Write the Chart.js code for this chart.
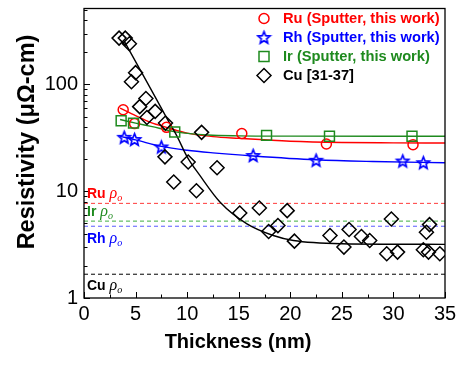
<!DOCTYPE html>
<html>
<head>
<meta charset="utf-8">
<script src="https://cdn.jsdelivr.net/npm/chart.js@4.4.1/dist/chart.umd.min.js"></script>
<style>
  html, body { margin: 0; padding: 0; background: #fff; }
  #wrap { width: 461px; height: 366px; }
</style>
</head>
<body>
<div id="wrap"><canvas id="resChart" width="461" height="366"></canvas></div>
<script>
// measured points (thickness nm, resistivity uOhm-cm)
const ruX = [3.8, 4.9, 8.0, 15.3, 23.5, 31.9];
const ruY = [58, 43, 39.7, 34.7, 27.7, 27.3];
const rhX = [3.9, 4.9, 7.5, 16.4, 22.5, 30.9, 32.9];
const rhY = [32, 30.5, 26, 21.6, 19.5, 19.2, 18.5];
const irX = [3.6, 4.8, 8.8, 17.7, 23.8, 31.8];
const irY = [45.8, 43.5, 35.9, 33.4, 32.7, 32.7];
const cuX = [3.4, 4.0, 4.4, 5.0, 4.6, 6.0, 5.4, 6.9, 6.1, 7.9, 11.4, 7.85, 8.7, 10.1, 10.9, 12.9,
             15.1, 17.0, 17.9, 18.8, 19.7, 20.4, 23.85, 25.2, 25.7, 26.9, 27.7, 29.35, 29.8,
             30.4, 32.9, 33.4, 33.2, 33.5, 34.5];
const cuY = [272, 272, 241, 129, 106, 74, 62, 56, 49, 43.5, 35.6, 21, 12.2, 18.8, 10.1, 16.6,
             6.26, 6.96, 4.2, 4.77, 6.58, 3.41, 3.85, 3.0, 4.38, 3.77, 3.46, 2.6, 5.5,
             2.69, 2.83, 2.69, 4.13, 4.87, 2.6];

// fitted curves
const ruFitX = [3.5, 5, 6.5, 8, 10, 12.5, 15, 20, 25, 30, 35];
const ruFitY = [60, 51, 44, 39.7, 35, 32.5, 31.3, 29.4, 28.6, 28.4, 28.3];
const irFitX = [3.5, 5, 6.5, 9, 12, 15, 20, 35];
const irFitY = [47, 43.5, 40.5, 35.8, 33.6, 33, 32.8, 32.7];
const rhFitX = [3.5, 5, 7.5, 10, 12.5, 16.4, 22.5, 28, 35];
const rhFitY = [32.7, 30.3, 26.3, 24.2, 22.9, 21.4, 19.7, 19, 18.5];
const cuFitX = [3.9, 6, 8, 9, 10, 11.25, 13.2, 15.8, 18.35, 20.3, 25, 30, 35];
const cuFitY = [255, 110, 49, 33, 21, 14, 7.9, 4.95, 3.85, 3.46, 3.22, 3.19, 3.18];

// bulk resistivities (dashed lines)
const rhoNames = ['Ru', 'Ir', 'Rh', 'Cu'];
const rhoValues = [7.7, 5.25, 4.7, 1.67];
const rhoRange = [0, 35];

const xTicks = [0, 5, 10, 15, 20, 25, 30, 35];
const yTicks = [1, 10, 100];

const legendNames = ['Ru (Sputter, this work)', 'Rh (Sputter, this work)', 'Ir (Sputter, this work)', 'Cu [31-37]'];

const RED = '#ff0000', BLUE = '#0000ff', GREEN = '#1e8a1e', BLACK = '#000000';
const rhoColors = ['#ff3b3b', '#3fae3f', '#5a5aff', '#000000'];
const SANS = "'Liberation Sans', Arial, sans-serif";

function pts(xs, ys) { return xs.map((x, i) => ({ x: x, y: ys[i] })); }

function makeStar(r, color, lw) {
  const c = document.createElement('canvas');
  const s = Math.ceil(2 * r + lw + 2);
  c.width = s; c.height = s;
  const g = c.getContext('2d');
  g.strokeStyle = color; g.lineWidth = lw; g.lineJoin = 'miter';
  g.beginPath();
  for (let i = 0; i < 10; i++) {
    const ang = -Math.PI / 2 + i * Math.PI / 5;
    const rr = i % 2 ? r * 0.45 : r;
    const px = s / 2 + rr * Math.cos(ang), py = s / 2 + 0.5 + rr * Math.sin(ang);
    if (i === 0) g.moveTo(px, py); else g.lineTo(px, py);
  }
  g.closePath(); g.stroke();
  return c;
}
const star = makeStar(6.3, BLUE, 1.7);

function markers(xs, ys, color, style, r) {
  return {
    data: pts(xs, ys), showLine: false, borderColor: color, backgroundColor: 'rgba(0,0,0,0)',
    pointStyle: style, pointRadius: r, pointBorderWidth: 1.5
  };
}
function fitLine(xs, ys, color) {
  return {
    data: pts(xs, ys), showLine: true, borderColor: color, borderWidth: 1.4, pointRadius: 0,
    cubicInterpolationMode: 'monotone', fill: false
  };
}

const datasets = [
  markers(cuX, cuY, BLACK, 'rectRot', 7),
  markers(irX, irY, GREEN, 'rect', 7),
  markers(rhX, rhY, BLUE, star, 6),
  markers(ruX, ruY, RED, 'circle', 5),
  fitLine(cuFitX, cuFitY, BLACK),
  fitLine(irFitX, irFitY, GREEN),
  fitLine(rhFitX, rhFitY, BLUE),
  fitLine(ruFitX, ruFitY, RED)
];
rhoValues.forEach((v, i) => {
  datasets.push({
    data: rhoRange.map(x => ({ x: x, y: v })), showLine: true, borderColor: rhoColors[i],
    borderWidth: 1, borderDash: [4, 3], pointRadius: 0
  });
});

const decor = {
  id: 'decor',
  afterDraw(chart) {
    const { ctx, chartArea: a, scales: { x, y } } = chart;
    ctx.save();
    ctx.strokeStyle = '#000';
    ctx.lineWidth = 1.3;
    ctx.strokeRect(a.left, a.top, a.right - a.left, a.bottom - a.top);

    // inward ticks
    ctx.lineWidth = 1;
    ctx.beginPath();
    xTicks.forEach((v, i) => {
      const px = Math.round(x.getPixelForValue(v)) + 0.5;
      ctx.moveTo(px, a.bottom); ctx.lineTo(px, a.bottom - 6);
      if (i < xTicks.length - 1) {
        const pm = Math.round(x.getPixelForValue((v + xTicks[i + 1]) / 2)) + 0.5;
        ctx.moveTo(pm, a.bottom); ctx.lineTo(pm, a.bottom - 3.5);
      }
    });
    yTicks.forEach(d => {
      const py = Math.round(y.getPixelForValue(d)) + 0.5;
      ctx.moveTo(a.left, py); ctx.lineTo(a.left + 6, py);
      for (let m = 2; m <= 9; m++) {
        if (d * m > y.max) break;
        const pm = Math.round(y.getPixelForValue(d * m)) + 0.5;
        ctx.moveTo(a.left, pm); ctx.lineTo(a.left + 3.5, pm);
      }
    });
    ctx.stroke();

    // legend
    const lx = 264, ly = [18.5, 37.5, 56.5, 75.5], lcol = [RED, BLUE, GREEN, BLACK];
    ctx.lineWidth = 1.5;
    ctx.strokeStyle = RED;
    ctx.beginPath(); ctx.arc(lx, ly[0], 5, 0, Math.PI * 2); ctx.stroke();
    ctx.drawImage(star, lx - star.width / 2, ly[1] - star.height / 2);
    ctx.strokeStyle = GREEN;
    ctx.strokeRect(lx - 5, ly[2] - 5, 10, 10);
    ctx.strokeStyle = BLACK;
    ctx.beginPath();
    ctx.moveTo(lx - 7, ly[3]); ctx.lineTo(lx, ly[3] - 7); ctx.lineTo(lx + 7, ly[3]); ctx.lineTo(lx, ly[3] + 7);
    ctx.closePath(); ctx.stroke();
    ctx.font = 'bold 14.7px ' + SANS;
    ctx.textBaseline = 'middle';
    ctx.textAlign = 'left';
    legendNames.forEach((t, i) => { ctx.fillStyle = lcol[i]; ctx.fillText(t, 283, ly[i] + 0.5); });

    // rho labels
    const rhoBase = [198, 216, 243, 290];
    const rhoTxt = [RED, GREEN, BLUE, BLACK];
    ctx.textBaseline = 'alphabetic';
    rhoNames.forEach((n, i) => {
      ctx.fillStyle = rhoTxt[i];
      ctx.font = 'bold 14px ' + SANS;
      ctx.fillText(n, 87, rhoBase[i]);
      const w = ctx.measureText(n + ' ').width;
      ctx.font = 'italic 16px "Liberation Serif", serif';
      ctx.fillText('\u03c1', 87 + w, rhoBase[i]);
      const w2 = ctx.measureText('\u03c1').width;
      ctx.font = 'italic 10px "Liberation Serif", serif';
      ctx.fillText('o', 87 + w + w2, rhoBase[i] + 3);
    });

    // axis titles
    ctx.fillStyle = '#000';
    ctx.font = 'bold 20px ' + SANS;
    ctx.textAlign = 'center';
    ctx.textBaseline = 'middle';
    ctx.fillText('Thickness (nm)', 238, 342);
    ctx.translate(28, 142);
    ctx.rotate(-Math.PI / 2);
    ctx.font = 'bold 23.5px ' + SANS;
    ctx.fillText('Resistivity (\u03bc\u03a9-cm)', 0, 0);
    ctx.restore();
  }
};

new Chart(document.getElementById('resChart').getContext('2d'), {
  type: 'scatter',
  data: { datasets: datasets },
  options: {
    responsive: false,
    animation: false,
    layout: { padding: { left: 0, top: 6, right: 16, bottom: 0 } },
    plugins: { legend: { display: false }, tooltip: { enabled: false } },
    scales: {
      x: {
        type: 'linear', min: 0, max: 35,
        afterBuildTicks: axis => { axis.ticks = xTicks.map(v => ({ value: v })); },
        afterFit: s => { s.height = 68; s.paddingLeft = 0; s.paddingRight = 0; },
        grid: { display: false, drawTicks: false }, border: { display: false },
        ticks: { color: '#000', padding: 4, maxRotation: 0, font: { size: 20, family: SANS } }
      },
      y: {
        type: 'logarithmic', min: 1, max: 515,
        afterBuildTicks: axis => { axis.ticks = yTicks.map(v => ({ value: v })); },
        afterFit: s => { s.width = 84; s.paddingTop = 0; s.paddingBottom = 0; },
        grid: { display: false, drawTicks: false }, border: { display: false },
        ticks: { color: '#000', padding: 6, font: { size: 20, family: SANS }, callback: v => String(v) }
      }
    }
  },
  plugins: [decor]
});
</script>
</body>
</html>
